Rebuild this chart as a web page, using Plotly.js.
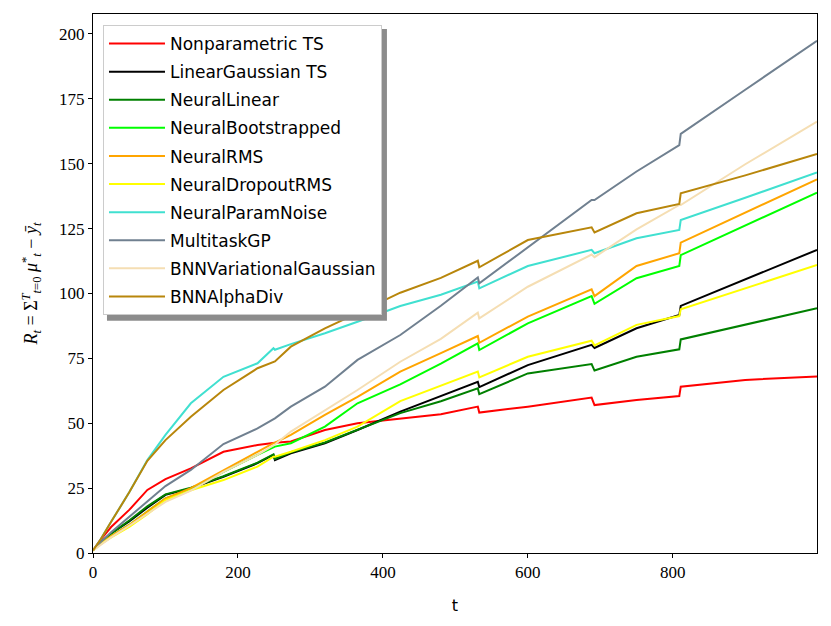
<!DOCTYPE html>
<html>
<head>
<meta charset="utf-8">
<script src="https://cdn.plot.ly/plotly-3.0.1.min.js"></script>
<style>
  body { margin: 0; background: #fff; }
  #chart { width: 831px; height: 626px; }
</style>
</head>
<body>
<div id="chart"></div>
<script>
// time steps shared by every curve (doubled steps mark the jumps)
var steps = [0, 10, 25, 50, 75, 100, 135, 180, 227, 249, 251, 273, 320, 365, 424, 480, 531, 533, 600, 688, 692, 750, 809, 811, 900, 999];

var nonparametricTS = [1, 5, 10, 16.6, 24.3, 28.5, 32.6, 39, 41.6, 42.5, 42.5, 43, 47.4, 50, 51.9, 53.5, 56.4, 54.1, 56.4, 59.9, 57, 59, 60.5, 64.1, 66.7, 68];
var linearGaussianTS = [1, 4, 7.5, 12.2, 17.5, 22.4, 24.9, 29.4, 34.6, 37.8, 35.8, 38.4, 42.3, 47.4, 54.5, 60.4, 66, 63.9, 72.4, 80.2, 79, 86.6, 91.7, 95.2, 105.3, 116.8];
var neuralLinear = [1, 4, 7.5, 12.5, 18, 22.6, 25.2, 29.6, 34.8, 38, 36.3, 38.8, 42.6, 47.6, 53.9, 58.5, 63.5, 61.2, 69.2, 72.8, 70.3, 75.6, 78.5, 82.3, 88, 94.3];
var neuralBootstrapped = [1, 3.5, 6.5, 10.8, 16, 21, 24.5, 31.3, 37.8, 41, 41, 42.3, 48.7, 57.7, 65, 73, 80.8, 78.2, 88.5, 99, 96, 105.9, 110.6, 114.8, 126.1, 138.9];
var neuralRMS = [1, 3.5, 6.5, 10.8, 16, 21, 25, 32, 39, 42.3, 42.5, 45.5, 53.2, 60.2, 69.9, 77, 83.6, 81, 91.1, 101.6, 99, 110.6, 115.5, 119.6, 131.1, 144];
var neuralDropoutRMS = [1, 3.3, 6, 10.1, 15, 20.4, 24.2, 28.1, 33.3, 37.1, 37.1, 39, 43.5, 48.7, 58.5, 64.5, 69.9, 67.7, 75.6, 81.8, 80, 87.9, 91.3, 93.9, 102, 111];
var neuralParamNoise = [1, 5, 12, 23.4, 35.8, 45.5, 57.7, 67.9, 73.1, 78.9, 78.3, 80.5, 84.7, 89.1, 95.2, 99.5, 104.6, 102, 110.6, 116.8, 115.5, 121.3, 124.5, 128.3, 136.9, 146.6];
var multitaskGP = [1, 4, 8, 14, 20, 25.8, 32, 42, 48, 51.5, 51.9, 56.4, 64.1, 74.4, 84, 95.3, 106.2, 103.9, 117.8, 136, 136, 147, 157.2, 161.5, 178.5, 197.4];
var bnnVariationalGaussian = [1, 3, 6, 10.5, 15, 19.7, 24, 31.3, 37.8, 41.6, 41.8, 46.8, 55.1, 62.8, 73.7, 82.5, 92.6, 90.4, 102.6, 115, 114, 124.7, 134.1, 134.1, 149.8, 166.2];
var bnnAlphaDiv = [1, 5, 12, 23.4, 35.5, 43.5, 52.5, 62.8, 71.2, 73.5, 73.8, 79.5, 86.6, 92.4, 100.3, 106, 112.6, 110.1, 120.6, 125.5, 123.5, 130.9, 134.5, 138.6, 145.5, 153.8];

var names = ['Nonparametric TS', 'LinearGaussian TS', 'NeuralLinear', 'NeuralBootstrapped', 'NeuralRMS',
             'NeuralDropoutRMS', 'NeuralParamNoise', 'MultitaskGP', 'BNNVariationalGaussian', 'BNNAlphaDiv'];
var series = [nonparametricTS, linearGaussianTS, neuralLinear, neuralBootstrapped, neuralRMS,
              neuralDropoutRMS, neuralParamNoise, multitaskGP, bnnVariationalGaussian, bnnAlphaDiv];
var colors = ['#ff0000', '#000000', '#008000', '#00ff00', '#ffa500',
              '#ffff00', '#40e0d0', '#708090', '#f5deb3', '#b8860b'];

var traces = [];
for (let i = 0; i < series.length; i++) {
  traces.push({
    x: steps,
    y: series[i],
    name: names[i],
    legendgroup: 'g' + i,
    type: 'scatter',
    mode: 'lines',
    line: { color: colors[i], width: 2 }
  });
}

var serif = 'Liberation Serif, DejaVu Serif, serif';

var layout = {
  width: 831,
  height: 626,
  margin: { l: 93, r: 14, t: 14, b: 73 },
  paper_bgcolor: '#fff',
  plot_bgcolor: '#fff',
  showlegend: true,
  legend: {
    x: 0.0138, y: 0.9796, xanchor: 'left', yanchor: 'top',
    bgcolor: '#fff', bordercolor: '#cccccc', borderwidth: 1,
    font: { family: 'DejaVu Sans, sans-serif', size: 17, color: '#000' },
    itemwidth: 56,
    tracegroupgap: 3
  },
  xaxis: {
    range: [0, 999],
    tickvals: [0, 200, 400, 600, 800],
    ticks: 'outside', ticklen: 4, tickcolor: '#000',
    showgrid: false, zeroline: false,
    showline: true, linecolor: '#000', linewidth: 1, mirror: true,
    tickfont: { family: serif, size: 17, color: '#000' },
    title: { text: 't', font: { family: 'DejaVu Sans, sans-serif', size: 16, color: '#000' }, standoff: 18 }
  },
  yaxis: {
    range: [0, 207.7],
    tickvals: [0, 25, 50, 75, 100, 125, 150, 175, 200],
    ticks: 'outside', ticklen: 4, tickcolor: '#000',
    showgrid: false, zeroline: false,
    showline: true, linecolor: '#000', linewidth: 1, mirror: true,
    tickfont: { family: serif, size: 17, color: '#000' },
    title: {
      text: '<i>R<sub>t</sub></i> = Σ<sup><i>T</i></sup><sub><i>t</i>=0</sub> <i>μ</i><sup>*</sup><sub><i>t</i></sub> − <i>ȳ<sub>t</sub></i>',
      font: { family: serif, size: 18, color: '#000' }, standoff: 16
    }
  },
  shapes: [{
    type: 'rect', xref: 'paper', yref: 'paper', layer: 'above',
    x0: 0.0193, x1: 0.406, y0: 0.431, y1: 0.972,
    fillcolor: '#8c8c8c', line: { width: 0 }
  }]
};

Plotly.newPlot('chart', traces, layout, { displayModeBar: false, staticPlot: true });
</script>
</body>
</html>
